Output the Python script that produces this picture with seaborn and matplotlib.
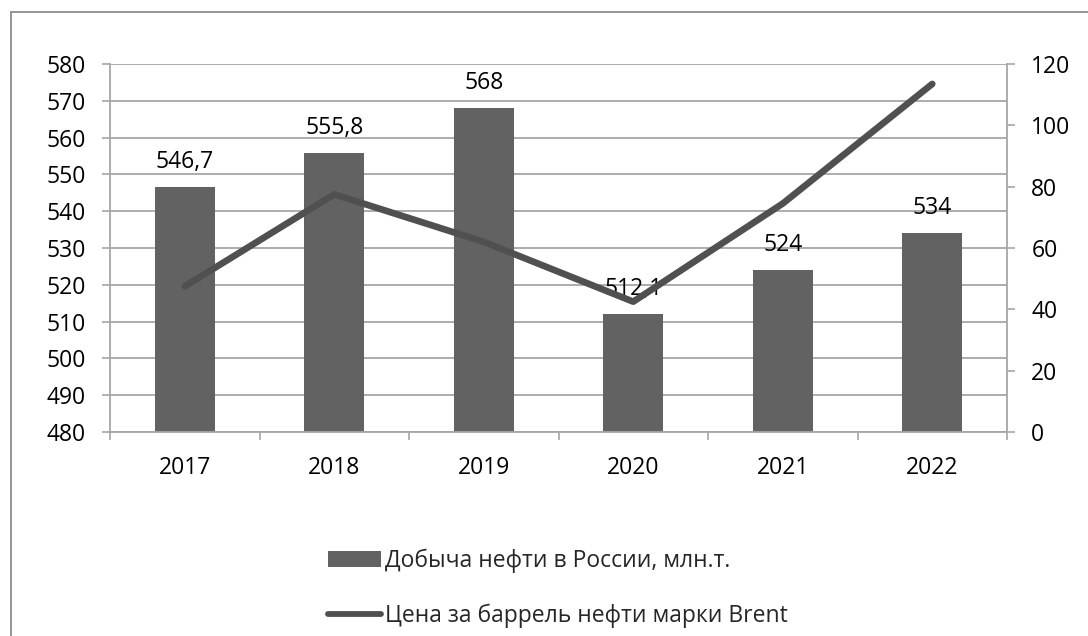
import numpy as np
import matplotlib
matplotlib.use("Agg")
import matplotlib.pyplot as plt
from matplotlib.patches import Patch
from matplotlib.lines import Line2D
from matplotlib.ticker import MultipleLocator, FixedLocator
import seaborn as sns
import pandas as pd

# Data
years = ["2017", "2018", "2019", "2020", "2021", "2022"]
production = [546.7, 555.8, 568.0, 512.1, 524.0, 534.0]  # млн.т.
brent = [47.5, 77.5, 62.0, 42.5, 74.5, 113.5]            # USD per barrel
value_labels = ["546,7", "555,8", "568", "512,1", "524", "534"]
bar_name = "Добыча нефти в России, млн.т."
line_name = "Цена за баррель нефти марки Brent"

sns.set_theme(style="white")
plt.rcParams["font.family"] = ["Open Sans", "DejaVu Sans"]

FS = 16.5
BAR = "#626262"
LINE = "#505050"
GRID = "#a6a6a6"

W, H = 1088, 636
fig = plt.figure(figsize=(W / 100, H / 100), dpi=100)
ax = fig.add_axes([110 / W, 1 - 432 / H, (1007 - 110) / W, (432 - 64) / H])

df = pd.DataFrame({"year": years, "production": production, "brent": brent})

sns.barplot(data=df, x="year", y="production", color=BAR, saturation=1,
            width=0.4, ax=ax, zorder=2)
for p in ax.patches:
    p.set_edgecolor("none")

ax.set_ylim(480, 580)
ax.set_xlim(-0.5, len(years) - 0.5)
ax.yaxis.set_major_locator(MultipleLocator(10))
ax.grid(axis="y", color=GRID, linewidth=1.3, zorder=0)
ax.grid(axis="x", visible=False)
ax.set_axisbelow(True)
ax.set_xlabel("")
ax.set_ylabel("")

# category boundary ticks on the x-axis
ax.xaxis.set_minor_locator(FixedLocator(np.arange(-0.5, len(years), 1.0)))
ax.tick_params(axis="x", which="major", length=0, pad=17, labelsize=FS, colors="black")
ax.tick_params(axis="x", which="minor", length=5.5, width=1.2, color=GRID, bottom=True)
ax.tick_params(axis="y", which="major", length=5.5, width=1.2, color=GRID, pad=12,
               labelsize=FS, left=True, labelcolor="black")

for s in ["left", "bottom", "right"]:
    ax.spines[s].set_color(GRID)
    ax.spines[s].set_linewidth(1.3)
ax.spines["top"].set_visible(False)

# value labels above the bars
for i, (v, lab) in enumerate(zip(production, value_labels)):
    ax.annotate(lab, (i, v), xytext=(0, 18), textcoords="offset points",
                ha="center", va="center", fontsize=FS, color="black")

# Brent price on the secondary axis, drawn over the bars
ax2 = ax.twinx()
ax2.set_zorder(ax.get_zorder() + 1)
ax2.patch.set_visible(False)
sns.lineplot(x=np.arange(len(years)), y=brent, ax=ax2, color=LINE,
             linewidth=4.8, solid_capstyle="round", zorder=3)
ax2.set_ylim(0, 120)
ax2.yaxis.set_major_locator(MultipleLocator(20))
ax2.grid(False)
ax2.tick_params(axis="y", which="major", length=5.5, width=1.2, color=GRID, pad=12,
                labelsize=FS, right=True, labelcolor="black")
for s in ["left", "bottom", "top", "right"]:
    ax2.spines[s].set_visible(False)
ax2.set_xlim(-0.5, len(years) - 0.5)

# Legend below the plot area
handles = [
    Patch(facecolor=BAR, edgecolor="none", label=bar_name),
    Line2D([0], [0], color=LINE, linewidth=4.2, solid_capstyle="round", label=line_name),
]
fig.legend(handles=handles, loc="upper left", bbox_to_anchor=(317 / W, 1 - 537 / H),
           frameon=False, fontsize=FS, borderpad=0, handlelength=2.3,
           handleheight=0.7, handletextpad=0.15, labelspacing=1.35)

# Outer chart frame (top and left edges)
fig.add_artist(Line2D([11 / W, 1], [1 - 12 / H, 1 - 12 / H], color="#8c8c8c",
                      linewidth=1.3, transform=fig.transFigure))
fig.add_artist(Line2D([11 / W, 11 / W], [0, 1 - 12 / H], color="#8c8c8c",
                      linewidth=1.3, transform=fig.transFigure))

fig.savefig("out.png", dpi=100, facecolor="white")
